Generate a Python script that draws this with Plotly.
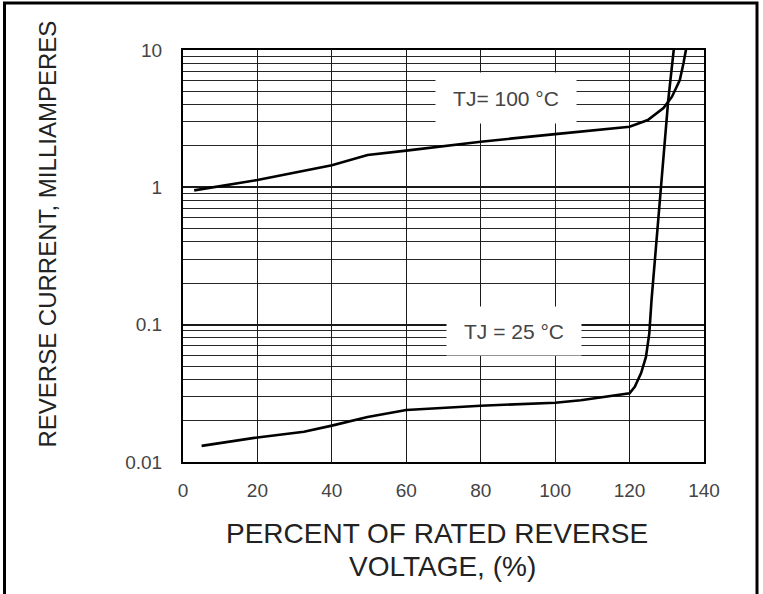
import math
import plotly.graph_objects as go

# ---- data ----
tj100_x = [3, 20, 40, 49.6, 60, 80, 100, 113, 120, 124.9, 129.1, 131.4, 133.5, 134.5, 135.2]
tj100_y = [0.95, 1.13, 1.45, 1.72, 1.85, 2.15, 2.44, 2.66, 2.76, 3.09, 3.78, 4.57, 6.05, 8.04, 10.2]

tj25_x = [5, 20, 32.5, 40, 49.6, 60, 80, 100, 106.9, 114.7, 120, 121.4, 123.1, 124.4,
          125.3, 125.9, 126.6, 127.0, 128.1, 129.2, 130.4, 131.9]
tj25_y = [0.0131, 0.0151, 0.0166, 0.0184, 0.0213, 0.0239, 0.0257, 0.0270, 0.0282, 0.0302,
          0.0316, 0.0353, 0.0444, 0.0583, 0.0865, 0.151, 0.257, 0.349, 0.808, 1.69, 4.33, 10.2]

series_labels = ["TJ= 100 °C", "TJ = 25 °C"]
label_x = [86.8, 88.9]
label_y = [4.47, 0.0898]

x_title_lines = ["PERCENT OF RATED REVERSE", "VOLTAGE, (%)"]
y_title = "REVERSE CURRENT, MILLIAMPERES"

FONT = "Liberation Sans, Arial, sans-serif"

fig = go.Figure()
fig.add_trace(go.Scatter(x=tj100_x, y=tj100_y, mode="lines",
                         line=dict(color="black", width=2.6), showlegend=False))
fig.add_trace(go.Scatter(x=tj25_x, y=tj25_y, mode="lines",
                         line=dict(color="black", width=2.6), showlegend=False))

L, R, T, B = 183, 59, 50, 132
W, H = 763, 594
pw, ph = W - L - R, H - T - B

def px2paper_x(px):
    return (px - L) / pw

def px2paper_y(py):
    return 1 - (py - T) / ph

# label boxes with white background that blank the grid
box_sizes = [(138, 48), (132, 46)]
for txt, lx, ly, (bw, bh) in zip(series_labels, label_x, label_y, box_sizes):
    fig.add_annotation(x=lx, y=math.log10(ly), text=txt, showarrow=False,
                       font=dict(family=FONT, size=21, color="#444"),
                       bgcolor="white", width=bw, height=bh,
                       xanchor="center", yanchor="middle")

# axis titles
fig.add_annotation(xref="paper", yref="paper", x=px2paper_x(47), y=px2paper_y(234.5),
                   text=y_title, textangle=-90, showarrow=False,
                   font=dict(family=FONT, size=24, color="#222"),
                   xanchor="center", yanchor="middle")
for line, py, pxc in zip(x_title_lines, [533, 566], [437, 442]):
    fig.add_annotation(xref="paper", yref="paper", x=px2paper_x(pxc), y=px2paper_y(py),
                       text=line, showarrow=False,
                       font=dict(family=FONT, size=28, color="#222"),
                       xanchor="center", yanchor="middle")

# outer frame of the figure (left, top, right)
x_left, x_right = px2paper_x(4.5), px2paper_x(757)
y_top, y_bot = px2paper_y(3), px2paper_y(600)
fig.add_shape(type="path", xref="paper", yref="paper",
              path=f"M {x_left} {y_bot} L {x_left} {y_top} L {x_right} {y_top} L {x_right} {y_bot}",
              line=dict(color="black", width=3))

fig.update_layout(
    width=W, height=H,
    margin=dict(l=L, r=R, t=T, b=B),
    paper_bgcolor="white", plot_bgcolor="white",
    font=dict(family=FONT, color="#444"),
    xaxis=dict(range=[0, 140], dtick=20, tick0=0,
               showgrid=True, gridcolor="#1a1a1a", gridwidth=1.4,
               showline=True, linecolor="black", linewidth=2, mirror=True,
               ticks="", ticklabelstandoff=10,
               tickfont=dict(family=FONT, size=19, color="#444"),
               zeroline=False),
    yaxis=dict(type="log", range=[-2, 1], dtick=1,
               showgrid=True, gridcolor="#1a1a1a", gridwidth=1.5,
               minor=dict(dtick="D1", showgrid=True, gridcolor="#262626", gridwidth=1.3, ticks=""),
               showline=True, linecolor="black", linewidth=2, mirror=True,
               ticks="", ticklabelstandoff=15,
               tickfont=dict(family=FONT, size=19, color="#444"),
               zeroline=False),
)

fig.write_html("out.html", config={"displayModeBar": False},
               post_script="document.body.style.margin='0';")
